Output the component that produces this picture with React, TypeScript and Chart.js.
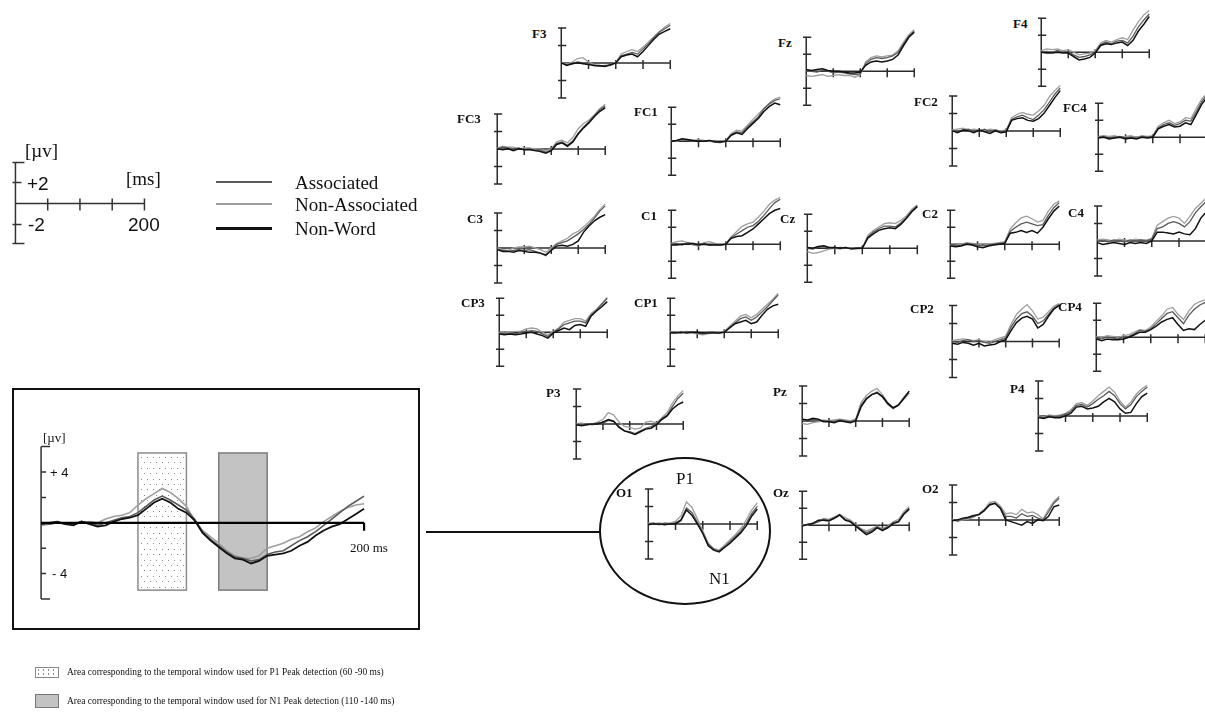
import React, { useEffect, useRef } from "react";
import { Chart, registerables } from "chart.js";
Chart.register(...registerables);

// ---------- data ----------
const TIMES = [0, 10, 20, 30, 40, 50, 60, 70, 80, 90, 100, 110, 120, 130, 140, 150, 160, 170, 180, 190, 200];
const BIG_TIMES = [0, 5, 10, 15, 20, 25, 30, 35, 40, 45, 50, 55, 60, 65, 70, 75, 80, 85, 90, 95, 100, 105, 110, 115, 120, 125, 130, 135, 140, 145, 150, 155, 160, 165, 170, 175, 180, 185, 190, 195, 200];
const SERIES_NAMES = ["Associated", "Non-Associated", "Non-Word"];
const X_TICKS = [50, 100, 150, 200];
const MINI_Y_TICKS = [4, 2, -2, -4];
const BIG_Y_TICKS = [6, 4, 2, -2, -4, -6];
const BIG_Y_LABELS = ["+ 4", "- 4"];
const KEY_Y_LABELS = ["+2", "-2"];
const KEY_X_LABEL = "200";
const P1_WINDOW = [60, 90];
const N1_WINDOW = [110, 140];
const WINDOW_UV = [5.5, -5.3];

const F3_A = [0, -0.2, -0.1, 0.1, 0.0, -0.1, -0.3, -0.4, -0.3, -0.3, 0.0, 0.8, 1.0, 1.2, 1.0, 1.6, 2.2, 2.9, 3.5, 3.9, 4.3];
const F3_N = [0, -0.1, 0.1, 0.5, 0.6, 0.1, -0.2, -0.4, -0.4, -0.2, 0.1, 1.0, 1.3, 1.5, 1.3, 1.8, 2.4, 3.0, 3.6, 4.1, 4.5];
const F3_W = [0, -0.3, -0.1, 0.0, -0.1, -0.2, -0.3, -0.3, -0.4, -0.2, 0.0, 0.7, 0.9, 1.0, 0.7, 1.3, 2.0, 2.7, 3.3, 3.6, 3.9];

const FZ_A = [0, 0.0, -0.1, 0.1, 0.0, -0.2, -0.1, -0.2, -0.3, -0.4, -0.3, 0.9, 1.4, 1.6, 1.5, 1.6, 1.8, 2.2, 3.2, 4.1, 4.7];
const FZ_N = [-0.5, -0.6, -0.5, -0.4, -0.6, -0.5, -0.4, -0.5, -0.5, -0.7, -0.4, 1.1, 1.6, 1.8, 1.7, 1.8, 1.9, 2.4, 3.4, 4.3, 4.9];
const FZ_W = [0.2, 0.1, 0.2, 0.3, 0.1, 0.0, 0.0, -0.1, -0.2, -0.2, -0.1, 0.7, 1.1, 1.2, 1.1, 1.2, 1.4, 1.9, 3.0, 4.0, 4.6];

const F4_A = [0, 0.1, 0.0, 0.2, 0.0, 0.1, -0.3, -0.6, -0.5, -0.3, 0.0, 0.9, 1.2, 1.0, 1.3, 1.4, 1.1, 1.9, 3.0, 3.8, 4.5];
const F4_N = [0.2, 0.4, 0.3, 0.4, 0.2, 0.3, 0.0, -0.3, -0.2, -0.1, 0.2, 1.1, 1.4, 1.2, 1.5, 1.7, 1.5, 2.6, 3.6, 4.4, 4.9];
const F4_W = [0, -0.1, -0.1, 0.0, -0.1, -0.1, -0.5, -0.9, -0.8, -0.6, -0.1, 0.8, 1.0, 0.9, 1.1, 1.2, 0.8, 1.4, 2.5, 3.3, 4.2];

const FC3_A = [0, 0.2, 0.1, 0.0, 0.1, -0.1, 0.0, -0.2, -0.1, -0.4, -0.1, 0.6, 0.8, 0.4, 0.9, 1.8, 2.5, 3.1, 3.8, 4.5, 4.9];
const FC3_N = [0.1, 0.3, 0.2, 0.2, 0.0, 0.1, 0.1, 0.0, 0.0, -0.2, 0.0, 0.8, 1.0, 0.7, 1.3, 2.3, 2.9, 3.3, 3.9, 4.6, 5.1];
const FC3_W = [0, -0.1, 0.0, -0.2, 0.0, -0.1, -0.1, -0.2, -0.3, -0.5, -0.2, 0.5, 0.7, 0.3, 0.8, 1.7, 2.4, 3.0, 3.7, 4.3, 4.7];

const FC1_A = [0, 0.1, 0.2, 0.1, 0.0, 0.1, 0.0, 0.1, 0.0, -0.1, 0.0, 0.8, 1.1, 1.0, 1.7, 2.3, 2.9, 3.8, 4.4, 4.8, 5.0];
const FC1_N = [0.1, 0.0, 0.2, 0.2, 0.1, 0.2, 0.1, 0.0, -0.1, -0.2, 0.1, 0.9, 1.3, 1.2, 1.9, 2.6, 3.2, 3.9, 4.5, 5.0, 5.2];
const FC1_W = [0, 0.1, 0.3, 0.2, 0.1, 0.0, 0.0, 0.1, -0.1, -0.1, 0.0, 0.7, 1.0, 0.8, 1.5, 2.1, 2.7, 3.5, 4.1, 4.5, 4.3];

const FC2_A = [0, -0.1, 0.1, 0.2, -0.1, 0.0, 0.2, -0.1, 0.1, -0.1, 0.0, 1.3, 1.6, 1.8, 1.5, 1.3, 1.8, 2.4, 3.3, 4.2, 4.9];
const FC2_N = [0.1, 0.2, 0.3, 0.1, 0.2, 0.1, 0.0, 0.2, 0.1, 0.0, 0.1, 1.5, 1.9, 2.1, 1.9, 1.8, 2.3, 2.9, 3.9, 4.6, 5.2];
const FC2_W = [0, -0.2, 0.1, 0.0, -0.2, 0.1, -0.1, -0.3, 0.0, -0.2, -0.1, 1.2, 1.4, 1.5, 1.2, 1.1, 1.4, 2.0, 2.9, 3.8, 4.6];

const FC4_A = [0, 0.1, -0.1, 0.0, 0.1, -0.1, 0.0, -0.1, 0.1, 0.0, 0.1, 1.1, 1.5, 1.7, 1.4, 1.6, 2.0, 1.9, 3.0, 4.2, 5.0];
const FC4_N = [0.1, 0.2, 0.1, 0.2, 0.0, 0.1, 0.2, 0.0, 0.2, 0.1, 0.2, 1.3, 1.7, 2.0, 1.6, 1.8, 2.3, 2.2, 3.4, 4.5, 5.2];
const FC4_W = [-0.1, 0.0, -0.2, -0.1, 0.0, -0.2, -0.1, -0.2, 0.0, -0.1, 0.0, 1.0, 1.3, 1.5, 1.2, 1.3, 1.7, 1.5, 2.7, 3.9, 4.7];

const C3_A = [-0.1, -0.3, -0.4, -0.3, -0.2, -0.3, -0.2, -0.4, -0.6, -0.9, -0.2, 0.4, 0.6, 0.8, 1.2, 1.6, 2.1, 2.7, 3.4, 4.2, 4.8];
const C3_N = [0.0, -0.2, -0.3, 0.0, 0.1, 0.1, 0.2, 0.0, -0.2, -0.5, 0.0, 0.5, 0.8, 1.1, 1.6, 1.9, 2.4, 3.0, 3.6, 4.4, 5.0];
const C3_W = [-0.2, -0.4, -0.4, -0.5, -0.3, -0.4, -0.5, -0.5, -0.6, -0.8, -0.3, 0.2, 0.3, 0.2, 0.4, 0.8, 1.8, 2.5, 3.1, 3.5, 3.8];

const C1_A = [0, 0.1, -0.1, 0.2, 0.1, 0.0, 0.1, -0.1, 0.0, -0.1, 0.0, 0.8, 1.2, 1.6, 2.0, 2.2, 2.7, 3.4, 4.2, 4.9, 5.3];
const C1_N = [0.1, 0.3, 0.4, 0.2, -0.1, -0.2, 0.2, 0.3, 0.1, 0.0, 0.1, 0.9, 1.5, 2.1, 2.4, 2.6, 3.2, 3.9, 4.7, 5.2, 5.5];
const C1_W = [-0.1, -0.1, 0.0, 0.0, 0.1, -0.1, 0.0, -0.1, -0.1, -0.1, 0.0, 0.7, 0.9, 1.0, 1.4, 1.8, 2.4, 3.0, 3.6, 4.0, 4.2];

const CZ_A = [0, -0.1, 0.1, 0.2, 0.0, 0.0, 0.1, 0.0, 0.0, 0.0, 0.0, 1.3, 1.9, 2.3, 2.6, 2.6, 2.5, 3.0, 3.6, 4.4, 5.0];
const CZ_N = [-0.4, -0.6, -0.5, -0.3, -0.1, 0.0, -0.1, 0.1, 0.0, -0.1, 0.0, 1.5, 2.1, 2.5, 2.9, 3.0, 2.9, 3.3, 3.8, 4.6, 5.1];
const CZ_W = [0.1, 0.0, 0.2, 0.3, 0.1, 0.1, 0.0, 0.1, -0.1, 0.0, 0.0, 1.2, 1.7, 2.1, 2.3, 2.4, 2.3, 2.8, 3.5, 4.3, 4.9];

const C2_A = [0, -0.2, -0.1, 0.1, 0.0, -0.1, -0.2, -0.1, 0.0, 0.1, 0.2, 1.5, 2.0, 2.4, 2.6, 2.4, 2.2, 2.3, 3.4, 4.3, 4.9];
const C2_N = [-0.1, -0.1, 0.0, 0.2, 0.1, 0.0, -0.1, 0.0, 0.1, 0.2, 0.3, 1.8, 2.5, 3.1, 3.3, 3.0, 2.6, 2.8, 3.9, 4.7, 5.1];
const C2_W = [-0.2, -0.3, -0.2, 0.0, -0.1, -0.3, -0.4, -0.2, -0.1, 0.0, 0.1, 1.3, 1.4, 1.6, 1.4, 1.6, 1.3, 2.0, 3.0, 3.9, 4.5];

const C4_A = [0, 0.0, -0.1, 0.1, 0.0, -0.1, 0.1, 0.0, 0.1, 0.0, 0.2, 1.4, 1.6, 2.0, 2.2, 2.0, 1.6, 2.2, 3.2, 3.9, 4.5];
const C4_N = [0.1, 0.2, 0.1, 0.0, 0.2, 0.1, 0.0, 0.2, 0.1, 0.1, 0.3, 1.8, 2.2, 2.6, 2.8, 2.6, 2.0, 2.8, 3.7, 4.3, 4.9];
const C4_W = [-0.2, -0.4, -0.3, -0.2, -0.3, -0.4, -0.2, -0.3, -0.2, -0.3, 0.0, 1.0, 1.0, 0.9, 0.8, 1.0, 0.8, 0.7, 1.4, 2.6, 3.3];

const CP3_A = [-0.1, -0.2, -0.1, -0.2, 0.0, 0.1, 0.2, 0.1, -0.2, -0.5, 0.0, 0.4, 0.9, 1.1, 1.3, 1.3, 1.1, 2.0, 2.6, 3.3, 4.0];
const CP3_N = [0.0, -0.1, 0.0, 0.1, 0.1, 0.4, 0.5, 0.4, 0.0, -0.3, 0.1, 0.5, 1.2, 1.4, 1.6, 1.6, 1.3, 2.2, 2.7, 3.4, 4.1];
const CP3_W = [-0.2, -0.3, -0.2, -0.3, -0.2, -0.1, 0.0, -0.2, -0.4, -0.7, -0.1, 0.2, 0.5, 0.3, 0.8, 0.9, 0.7, 1.9, 2.5, 3.0, 3.6];

const CP1_A = [0, 0.0, -0.1, 0.1, 0.0, -0.1, -0.2, 0.0, 0.0, -0.1, 0.0, 0.6, 1.1, 1.6, 1.8, 1.4, 1.8, 2.4, 3.0, 3.7, 4.4];
const CP1_N = [0.1, 0.0, 0.1, 0.0, -0.1, -0.2, -0.3, -0.2, 0.0, 0.0, 0.1, 0.7, 1.3, 1.9, 2.1, 1.7, 2.1, 2.7, 3.3, 3.9, 4.6];
const CP1_W = [-0.1, -0.1, 0.0, -0.1, 0.0, 0.0, -0.1, -0.1, -0.1, -0.1, 0.0, 0.5, 1.0, 1.2, 1.4, 1.0, 1.2, 2.0, 2.7, 3.1, 3.3];

const CP2_A = [0, -0.1, 0.1, 0.2, 0.0, 0.1, -0.1, -0.2, 0.0, 0.2, 0.4, 1.6, 2.5, 3.1, 3.3, 2.8, 2.0, 2.3, 3.0, 3.7, 4.1];
const CP2_N = [0.1, 0.2, 0.3, 0.2, 0.1, 0.2, 0.0, -0.1, 0.2, 0.4, 0.6, 1.9, 3.0, 3.6, 4.1, 3.4, 2.5, 2.7, 3.3, 3.9, 4.2];
const CP2_W = [-0.2, -0.3, -0.1, -0.2, -0.4, -0.2, -0.5, -0.4, -0.3, 0.0, 0.2, 1.2, 2.1, 2.6, 2.8, 2.5, 1.5, 1.9, 2.8, 3.6, 4.0];

const CP4_A = [-0.1, -0.2, 0.0, -0.1, -0.2, 0.0, 0.1, 0.4, 0.8, 0.7, 1.0, 1.6, 2.2, 2.8, 3.0, 2.3, 1.6, 2.6, 3.3, 3.8, 4.1];
const CP4_N = [0.1, 0.0, 0.2, 0.1, 0.0, 0.2, 0.3, 0.6, 0.9, 0.8, 1.2, 1.9, 2.5, 3.3, 3.5, 2.7, 2.1, 3.1, 3.85, 4.2, 4.4];
const CP4_W = [-0.2, -0.4, -0.2, -0.3, -0.3, -0.2, 0.0, 0.3, 0.6, 0.6, 0.9, 1.3, 1.8, 2.1, 2.3, 1.5, 0.8, 1.0, 0.9, 1.5, 2.0];

const P3_A = [0, -0.1, 0.0, -0.1, 0.1, 0.1, 0.4, 0.3, -0.3, -0.8, -0.9, -1.1, -0.8, -0.5, -0.3, 0.0, 0.6, 1.0, 2.0, 2.9, 3.5];
const P3_N = [0.0, 0.1, -0.1, 0.0, 0.2, 0.5, 1.3, 1.0, 0.2, -0.3, -0.4, -0.6, -0.5, 0.2, 0.3, 0.1, 0.7, 1.3, 2.4, 3.2, 3.8];
const P3_W = [-0.1, -0.2, -0.1, 0.0, 0.0, 0.2, 0.5, 0.3, -0.4, -0.8, -1.0, -1.2, -0.9, -0.6, -0.5, -0.1, 0.5, 0.9, 1.7, 2.2, 2.5];

const PZ_A = [0.1, 0.0, 0.2, 0.1, 0.0, 0.0, -0.1, 0.1, 0.0, -0.1, 0.1, 1.8, 2.6, 3.0, 3.3, 2.7, 1.9, 1.4, 1.8, 2.5, 3.2];
const PZ_N = [-0.3, -0.4, -0.2, -0.1, 0.1, 0.0, 0.1, 0.2, 0.1, 0.0, 0.2, 2.1, 2.9, 3.4, 3.7, 3.0, 2.1, 1.5, 1.9, 2.7, 3.4];
const PZ_W = [0.2, 0.1, 0.3, 0.2, -0.1, -0.1, -0.2, 0.0, -0.1, -0.2, 0.0, 1.6, 2.5, 3.0, 3.2, 2.8, 2.0, 1.5, 1.8, 2.6, 3.4];

const P4_A = [-0.1, -0.2, 0.0, -0.1, 0.0, 0.2, 0.5, 1.2, 1.3, 1.0, 1.4, 1.9, 2.3, 2.8, 2.3, 1.4, 0.8, 1.3, 2.2, 2.8, 3.3];
const P4_N = [0.0, -0.1, 0.1, 0.0, 0.1, 0.3, 0.7, 1.4, 1.5, 1.2, 1.7, 2.3, 2.8, 3.3, 2.7, 1.7, 1.0, 1.6, 2.5, 3.1, 3.5];
const P4_W = [-0.2, -0.3, -0.1, -0.2, -0.2, 0.0, 0.3, 1.0, 1.1, 0.8, 0.9, 1.1, 1.6, 2.0, 1.6, 0.8, 0.3, 0.4, 1.4, 2.2, 2.6];

const O1_A = [0, 0.1, -0.1, 0.1, 0.0, 0.1, 0.5, 1.8, 1.3, 0.2, -1.0, -2.3, -2.9, -3.1, -2.6, -2.0, -1.4, -0.8, 0.1, 1.2, 2.0];
const O1_N = [0.1, 0.0, 0.1, 0.0, 0.1, 0.3, 0.9, 2.5, 1.9, 0.6, -0.8, -2.2, -2.8, -3.0, -2.4, -1.8, -1.2, -0.5, 0.5, 1.6, 2.4];
const O1_W = [-0.1, 0.0, 0.0, -0.1, 0.0, 0.0, 0.4, 1.6, 1.0, 0.0, -1.1, -2.5, -3.0, -3.2, -2.7, -2.2, -1.6, -1.0, -0.2, 0.9, 1.7];

const OZ_A = [0, 0.1, 0.2, 0.4, 0.7, 0.6, 0.9, 1.2, 0.7, 0.5, 0.0, -0.5, -0.9, -0.6, -0.2, -0.5, -0.2, 0.3, 0.5, 1.4, 2.0];
const OZ_N = [0.1, 0.0, 0.3, 0.5, 0.8, 0.7, 1.0, 1.3, 0.9, 0.6, 0.1, -0.4, -0.7, -0.4, -0.1, -0.4, -0.1, 0.4, 0.7, 1.6, 2.2];
const OZ_W = [-0.1, 0.1, 0.2, 0.6, 0.6, 0.5, 0.8, 1.2, 0.6, 0.4, -0.1, -0.6, -1.1, -0.8, -0.3, -0.6, -0.3, 0.2, 0.4, 1.3, 1.9];

const O2_A = [0, -0.1, 0.1, 0.2, 0.4, 0.6, 1.0, 1.8, 1.9, 1.4, 0.4, 0.4, 0.2, 0.7, 0.4, 0.5, 0.2, 0.0, 0.9, 1.9, 2.5];
const O2_N = [0.1, -0.2, 0.0, 0.1, 0.3, 0.7, 1.2, 2.0, 2.1, 1.6, 0.7, 0.8, 0.6, 1.2, 0.8, 0.9, 0.6, 0.1, 1.2, 2.1, 2.7];
const O2_W = [-0.1, 0.0, 0.2, 0.3, 0.5, 0.6, 1.1, 1.7, 1.9, 1.3, 0.0, -0.2, -0.4, -0.6, -0.2, -0.4, 0.0, -0.1, 0.4, 1.5, 1.7];

// enlarged O1 (5 ms steps)
const BIG_A = [0.0, -0.1, 0.0, 0.0, -0.1, 0.1, 0.0, -0.2, 0.0, 0.2, 0.4, 0.5, 0.8, 1.3, 1.8, 2.1, 1.8, 1.4, 1.0, 0.3, -0.7, -1.3, -1.8, -2.3, -2.7, -2.8, -3.0, -2.9, -2.5, -2.3, -2.2, -1.8, -1.4, -1.1, -0.7, -0.2, 0.3, 0.8, 1.3, 1.7, 2.1];
const BIG_N = [-0.2, -0.1, 0.0, -0.1, -0.1, 0.0, 0.1, 0.0, 0.3, 0.5, 0.6, 0.8, 1.4, 1.9, 2.3, 2.7, 2.4, 1.9, 1.3, 0.2, -0.6, -1.1, -1.6, -2.2, -2.6, -2.8, -2.8, -2.6, -2.0, -1.8, -1.6, -1.3, -1.1, -0.7, -0.4, 0.1, 0.5, 0.9, 1.2, 1.4, 1.5];
const BIG_W = [-0.1, 0.0, 0.1, -0.1, -0.2, 0.1, -0.1, -0.3, -0.2, 0.1, 0.3, 0.4, 0.6, 1.1, 1.6, 1.9, 1.6, 1.1, 0.8, 0.2, -0.8, -1.4, -1.9, -2.4, -2.8, -2.9, -3.2, -3.0, -2.6, -2.5, -2.4, -2.2, -1.8, -1.5, -1.0, -0.6, -0.3, -0.1, 0.3, 0.7, 1.1];

// ---------- layout / style ----------
const COLORS = ["#5a5a5a", "#9e9e9e", "#111111"]; // Associated, Non-Associated, Non-Word
const SERIF = "'Liberation Serif', 'Times New Roman', serif";
const SANS = "'Liberation Sans', Arial, sans-serif";

type Panel = { name: string; ox: number; oy: number; ex: number; h4: number; lx: number; ly: number; a: number[]; n: number[]; w: number[] };
const PANELS: Panel[] = [
  { name: "F3", ox: 561, oy: 63, ex: 670, h4: 35, lx: 532, ly: 33, a: F3_A, n: F3_N, w: F3_W },
  { name: "Fz", ox: 806, oy: 71, ex: 914, h4: 34, lx: 778, ly: 42, a: FZ_A, n: FZ_N, w: FZ_W },
  { name: "F4", ox: 1041, oy: 52, ex: 1149, h4: 34, lx: 1013, ly: 23, a: F4_A, n: F4_N, w: F4_W },
  { name: "FC3", ox: 497, oy: 149, ex: 605, h4: 35, lx: 457, ly: 118, a: FC3_A, n: FC3_N, w: FC3_W },
  { name: "FC1", ox: 671, oy: 141, ex: 780, h4: 34, lx: 634, ly: 111, a: FC1_A, n: FC1_N, w: FC1_W },
  { name: "FC2", ox: 952, oy: 131, ex: 1060, h4: 35, lx: 914, ly: 101, a: FC2_A, n: FC2_N, w: FC2_W },
  { name: "FC4", ox: 1098, oy: 137, ex: 1207, h4: 34, lx: 1063, ly: 107, a: FC4_A, n: FC4_N, w: FC4_W },
  { name: "C3", ox: 497, oy: 248, ex: 605, h4: 35, lx: 467, ly: 218, a: C3_A, n: C3_N, w: C3_W },
  { name: "C1", ox: 671, oy: 244, ex: 780, h4: 34, lx: 641, ly: 215, a: C1_A, n: C1_N, w: C1_W },
  { name: "Cz", ox: 807, oy: 248, ex: 917, h4: 34, lx: 780, ly: 218, a: CZ_A, n: CZ_N, w: CZ_W },
  { name: "C2", ox: 950, oy: 244, ex: 1059, h4: 34, lx: 922, ly: 213, a: C2_A, n: C2_N, w: C2_W },
  { name: "C4", ox: 1097, oy: 241, ex: 1206, h4: 35, lx: 1068, ly: 212, a: C4_A, n: C4_N, w: C4_W },
  { name: "CP3", ox: 499, oy: 332, ex: 607, h4: 34, lx: 461, ly: 302, a: CP3_A, n: CP3_N, w: CP3_W },
  { name: "CP1", ox: 670, oy: 332, ex: 778, h4: 34, lx: 634, ly: 302, a: CP1_A, n: CP1_N, w: CP1_W },
  { name: "CP2", ox: 952, oy: 341, ex: 1059, h4: 36, lx: 910, ly: 308, a: CP2_A, n: CP2_N, w: CP2_W },
  { name: "CP4", ox: 1096, oy: 337, ex: 1205, h4: 34, lx: 1058, ly: 306, a: CP4_A, n: CP4_N, w: CP4_W },
  { name: "P3", ox: 576, oy: 424, ex: 683, h4: 35, lx: 546, ly: 392, a: P3_A, n: P3_N, w: P3_W },
  { name: "Pz", ox: 802, oy: 421, ex: 909, h4: 35, lx: 773, ly: 391, a: PZ_A, n: PZ_N, w: PZ_W },
  { name: "P4", ox: 1038, oy: 416, ex: 1147, h4: 35, lx: 1010, ly: 388, a: P4_A, n: P4_N, w: P4_W },
  { name: "O1", ox: 648, oy: 524, ex: 757, h4: 35, lx: 616, ly: 492, a: O1_A, n: O1_N, w: O1_W },
  { name: "Oz", ox: 802, oy: 525, ex: 909, h4: 34, lx: 773, ly: 492, a: OZ_A, n: OZ_N, w: OZ_W },
  { name: "O2", ox: 952, oy: 520, ex: 1059, h4: 35, lx: 922, ly: 488, a: O2_A, n: O2_N, w: O2_W },
];

function toXY(times: number[], vals: number[]) {
  return vals.map((v, i) => ({ x: times[i], y: v }));
}

type AxisKind = "mini" | "big" | "key";

function drawAxes(chart: any, kind: AxisKind) {
  const { ctx } = chart;
  const xs = chart.scales.x;
  const ys = chart.scales.y;
  const x0 = xs.getPixelForValue(0);
  const y0 = ys.getPixelForValue(0);
  const xEnd = xs.getPixelForValue(200);
  ctx.save();
  ctx.lineCap = "butt";
  if (kind === "mini") {
    ctx.strokeStyle = "#2b2b2b";
    ctx.lineWidth = 1.5;
    ctx.beginPath();
    ctx.moveTo(x0, ys.getPixelForValue(4));
    ctx.lineTo(x0, ys.getPixelForValue(-4));
    for (const v of MINI_Y_TICKS) {
      const py = ys.getPixelForValue(v);
      ctx.moveTo(x0 - 4, py);
      ctx.lineTo(x0 + 5, py);
    }
    ctx.moveTo(x0, y0);
    ctx.lineTo(xEnd, y0);
    for (const t of X_TICKS) {
      const px = xs.getPixelForValue(t);
      ctx.moveTo(px, y0 - 3);
      ctx.lineTo(px, y0 + 6);
    }
    ctx.stroke();
  } else if (kind === "key") {
    ctx.strokeStyle = "#333";
    ctx.lineWidth = 1.5;
    ctx.beginPath();
    ctx.moveTo(x0, ys.getPixelForValue(3.9));
    ctx.lineTo(x0, ys.getPixelForValue(-3.8));
    for (const v of [3.9, -3.8]) {
      const py = ys.getPixelForValue(v);
      ctx.moveTo(x0 - 3, py);
      ctx.lineTo(x0 + 9, py);
    }
    for (const v of [2, -2]) {
      const py = ys.getPixelForValue(v);
      ctx.moveTo(x0 - 3, py);
      ctx.lineTo(x0 + 6, py);
    }
    ctx.moveTo(x0, y0);
    ctx.lineTo(xEnd, y0);
    for (const t of X_TICKS) {
      const px = xs.getPixelForValue(t);
      ctx.moveTo(px, y0 - 5);
      ctx.lineTo(px, y0 + 7);
    }
    ctx.stroke();
  } else {
    ctx.strokeStyle = "#333";
    ctx.lineWidth = 1.5;
    ctx.beginPath();
    ctx.moveTo(x0, ys.getPixelForValue(6));
    ctx.lineTo(x0, ys.getPixelForValue(-6));
    for (const v of BIG_Y_TICKS) {
      const py = ys.getPixelForValue(v);
      const len = Math.abs(v) === 6 ? 9 : 5;
      ctx.moveTo(x0, py);
      ctx.lineTo(x0 + len, py);
    }
    ctx.stroke();
    ctx.strokeStyle = "#000";
    ctx.lineWidth = 2.2;
    ctx.beginPath();
    ctx.moveTo(x0, y0);
    ctx.lineTo(xEnd, y0);
    ctx.moveTo(xEnd, y0);
    ctx.lineTo(xEnd, y0 + 8);
    ctx.stroke();
  }
  ctx.restore();
}

function drawWindows(chart: any) {
  const { ctx } = chart;
  const xs = chart.scales.x;
  const ys = chart.scales.y;
  const top = ys.getPixelForValue(WINDOW_UV[0]);
  const bot = ys.getPixelForValue(WINDOW_UV[1]);
  const l1 = xs.getPixelForValue(P1_WINDOW[0]);
  const r1 = xs.getPixelForValue(P1_WINDOW[1]);
  const l2 = xs.getPixelForValue(N1_WINDOW[0]);
  const r2 = xs.getPixelForValue(N1_WINDOW[1]);
  ctx.save();
  ctx.fillStyle = "#ffffff";
  ctx.fillRect(l1, top, r1 - l1, bot - top);
  ctx.fillStyle = "#8a8a8a";
  let row = 0;
  for (let y = top + 4; y < bot - 2; y += 5.4) {
    const off = row % 2 === 0 ? 3 : 6;
    for (let x = l1 + off; x < r1 - 2; x += 6) ctx.fillRect(Math.round(x), Math.round(y), 1, 1);
    row++;
  }
  ctx.strokeStyle = "#8c8c8c";
  ctx.lineWidth = 1.5;
  ctx.strokeRect(l1, top, r1 - l1, bot - top);
  ctx.fillStyle = "#c3c3c3";
  ctx.fillRect(l2, top, r2 - l2, bot - top);
  ctx.strokeStyle = "#7c7c7c";
  ctx.strokeRect(l2, top, r2 - l2, bot - top);
  ctx.restore();
}

type PlotProps = {
  ox: number; oy: number; ex: number; pxUv: number;
  times: number[]; series: number[][]; kind: AxisKind; lineWidth: number;
  xPadL: number; xPadR: number; yTop: number; yBot: number;
};

function Plot(props: PlotProps) {
  const ref = useRef<HTMLCanvasElement | null>(null);
  const { ox, oy, ex, pxUv, times, series, kind, lineWidth, xPadL, xPadR, yTop, yBot } = props;
  const pxMs = (ex - ox) / 200;
  const W = Math.ceil((200 + xPadL + xPadR) * pxMs);
  const H = Math.ceil((yTop - yBot) * pxUv);
  const xmin = -xPadL;
  const xmax = xmin + W / pxMs;
  const ymax = yTop;
  const ymin = ymax - H / pxUv;
  const left = ox - xPadL * pxMs;
  const top = oy - yTop * pxUv;

  useEffect(() => {
    if (!ref.current) return;
    // order: Non-Word on top, then Associated, then Non-Associated
    const order = [2, 0, 1];
    const datasets = series.length
      ? order.map((idx) => ({
          label: SERIES_NAMES[idx],
          data: toXY(times, series[idx]),
          borderColor: COLORS[idx],
          borderWidth: idx === 2 ? lineWidth + 0.2 : lineWidth,
          pointRadius: 0,
          tension: 0,
          fill: false,
        }))
      : [];
    const chart = new Chart(ref.current, {
      type: "line",
      data: { datasets },
      options: {
        animation: false,
        responsive: false,
        maintainAspectRatio: false,
        events: [],
        layout: { padding: 0 },
        plugins: { legend: { display: false }, tooltip: { enabled: false }, title: { display: false } },
        scales: {
          x: { type: "linear", display: false, min: xmin, max: xmax },
          y: { type: "linear", display: false, min: ymin, max: ymax },
        },
      },
      plugins: [
        {
          id: "eegAxes" + kind,
          beforeDatasetsDraw(c: any) {
            if (kind === "big") drawWindows(c);
            if (kind !== "big") drawAxes(c, kind);
          },
          afterDatasetsDraw(c: any) {
            if (kind === "big") drawAxes(c, kind);
          },
        },
      ],
    } as any);
    return () => chart.destroy();
  }, []);

  return (
    <canvas
      ref={ref}
      width={W}
      height={H}
      style={{ position: "absolute", left, top, width: W, height: H }}
    />
  );
}

function T(p: { x: number; cy: number; size: number; family: string; bold?: boolean; children: React.ReactNode; color?: string; sx?: number }) {
  return (
    <div
      style={{
        position: "absolute",
        left: p.x,
        top: p.cy - p.size / 2,
        fontSize: p.size,
        lineHeight: `${p.size}px`,
        fontFamily: p.family,
        fontWeight: p.bold ? "bold" : "normal",
        whiteSpace: "nowrap",
        color: p.color || "#111",
        transform: p.sx ? `scaleX(${p.sx})` : undefined,
        transformOrigin: "left center",
      }}
    >
      {p.children}
    </div>
  );
}

export default function App() {
  return (
    <div style={{ position: "absolute", left: 0, top: 0, width: 1205, height: 713, overflow: "hidden", background: "#fff" }}>
      {/* scale key */}
      <Plot ox={15} oy={203} ex={144} pxUv={10.5} times={TIMES} series={[]} kind="key" lineWidth={1} xPadL={10} xPadR={10} yTop={5} yBot={-5} />
      <T x={25} cy={150} size={19} family={SERIF}>[µv]</T>
      <T x={27} cy={183} size={19} family={SANS}>{KEY_Y_LABELS[0]}</T>
      <T x={28} cy={224} size={19} family={SANS}>{KEY_Y_LABELS[1]}</T>
      <T x={126} cy={178} size={19} family={SERIF}>[ms]</T>
      <T x={128} cy={224} size={19} family={SANS}>{KEY_X_LABEL}</T>

      {/* legend */}
      {SERIES_NAMES.map((name, i) => {
        const cy = [182, 204, 228][i];
        return (
          <React.Fragment key={name}>
            <div style={{ position: "absolute", left: 216, top: cy - 1, width: 56, height: i === 2 ? 2.5 : 2, background: COLORS[i] }} />
            <T x={295} cy={cy} size={19} family={SERIF}>{name}</T>
          </React.Fragment>
        );
      })}

      {/* small panels */}
      {PANELS.map((p) => (
        <React.Fragment key={p.name}>
          <Plot ox={p.ox} oy={p.oy} ex={p.ex} pxUv={p.h4 / 4} times={TIMES} series={[p.a, p.n, p.w]} kind="mini" lineWidth={1.3} xPadL={6} xPadR={8} yTop={6.5} yBot={-5.5} />
          <T x={p.lx} cy={p.ly} size={13} family={SERIF} bold>{p.name}</T>
        </React.Fragment>
      ))}

      {/* circle + connector */}
      <div style={{ position: "absolute", left: 599, top: 457, width: 172, height: 148, border: "2px solid #111", borderRadius: "50%", boxSizing: "border-box" }} />
      <div style={{ position: "absolute", left: 426, top: 531, width: 174, height: 2, background: "#111" }} />
      <T x={676} cy={478} size={17} family={SERIF}>P1</T>
      <T x={709} cy={578} size={17} family={SERIF}>N1</T>

      {/* enlarged panel */}
      <div style={{ position: "absolute", left: 12, top: 388, width: 408, height: 242, border: "2px solid #111", boxSizing: "border-box" }} />
      <Plot ox={41} oy={523} ex={364} pxUv={12.7} times={BIG_TIMES} series={[BIG_A, BIG_N, BIG_W]} kind="big" lineWidth={1.6} xPadL={5} xPadR={8} yTop={6.6} yBot={-6.6} />
      <T x={43} cy={437} size={13} family={SERIF}>[µv]</T>
      <T x={50} cy={472} size={13} family={SANS}>{BIG_Y_LABELS[0]}</T>
      <T x={52} cy={573} size={13} family={SANS}>{BIG_Y_LABELS[1]}</T>
      <T x={350} cy={547} size={13} family={SERIF}>200 ms</T>

      {/* bottom legend */}
      <div
        style={{
          position: "absolute", left: 35, top: 667, width: 24, height: 11, border: "1px solid #888", boxSizing: "border-box",
          backgroundImage: "radial-gradient(circle, #888 0.7px, transparent 0.9px)", backgroundSize: "5px 4px",
        }}
      />
      <T x={67} cy={672} size={10.5} family={SERIF} sx={0.9}>Area corresponding to the temporal window used for P1 Peak detection (60 -90 ms)</T>
      <div style={{ position: "absolute", left: 35, top: 694, width: 24, height: 14, border: "1px solid #777", background: "#c3c3c3", boxSizing: "border-box" }} />
      <T x={67} cy={701} size={10.5} family={SERIF} sx={0.9}>Area corresponding to the temporal window used for N1 Peak detection (110 -140 ms)</T>
    </div>
  );
}
